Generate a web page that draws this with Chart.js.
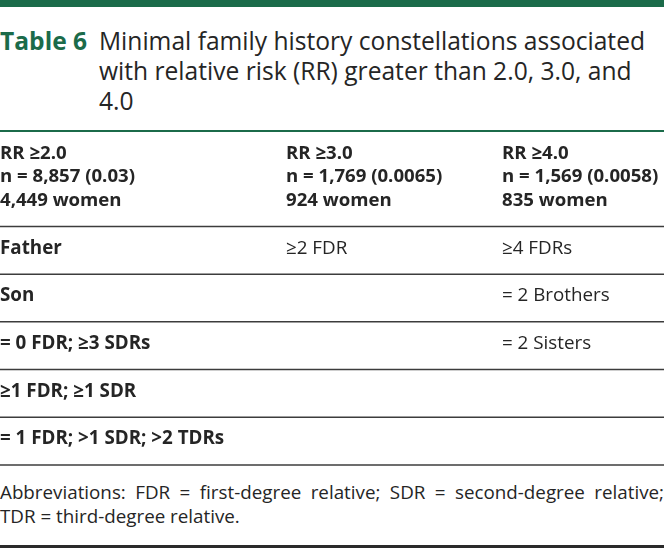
<!DOCTYPE html>
<html>
<head>
<meta charset="utf-8">
<script src="https://cdn.jsdelivr.net/npm/chart.js@4.4.1/dist/chart.umd.min.js"></script>
<style>
  html, body { margin: 0; padding: 0; background: #fff; }
  body { width: 664px; height: 548px; position: relative; overflow: hidden; font-family: "Open Sans", sans-serif; color: #252525; }
  .topbar { position: absolute; left: 0; top: 0; width: 664px; height: 7px; background: #1b6b4a; }
  .title { position: absolute; left: 0; top: 26px; width: 664px; font-size: 24.6px; line-height: 30px; }
  .title .tag { position: absolute; left: 0; top: 0; font-weight: 700; color: #1b6b4a; white-space: nowrap; }
  .title .txt { position: absolute; left: 99px; top: 0; white-space: nowrap; }
  #tableWrap { position: absolute; left: 0; top: 130px; width: 664px; height: 336px; }
  .note { position: absolute; left: 0; top: 480px; width: 664px; font-size: 18.8px; line-height: 24px; }
  .note .l1 { text-align: justify; text-align-last: justify; white-space: normal; }
  .bottom { position: absolute; left: 0; top: 545px; width: 664px; height: 3px; background: #2a2a2a; }
</style>
</head>
<body>
<div class="topbar"></div>
<div class="title">
  <span class="tag">Table 6</span>
  <div class="txt">Minimal family history constellations associated<br>with relative risk (RR) greater than 2.0, 3.0, and<br>4.0</div>
</div>
<div id="tableWrap"><canvas id="tbl"></canvas></div>
<div class="note">
  <div class="l1">Abbreviations: FDR = first-degree relative; SDR = second-degree relative;</div>
  <div>TDR = third-degree relative.</div>
</div>
<div class="bottom"></div>
<script>
// header cells, one per column
const columns = ['RR \u22652.0', 'RR \u22653.0', 'RR \u22654.0'];
const cohortN = ['n = 8,857 (0.03)', 'n = 1,769 (0.0065)', 'n = 1,569 (0.0058)'];
const women = ['4,449 women', '924 women', '835 women'];

// body cells, one array per column
const rr2 = ['Father', 'Son', '= 0 FDR; \u22653 SDRs', '\u22651 FDR; \u22651 SDR', '= 1 FDR; >1 SDR; >2 TDRs'];
const rr3 = ['\u22652 FDR', '', '', '', ''];
const rr4 = ['\u22654 FDRs', '= 2 Brothers', '= 2 Sisters', '', ''];

// two slots for the header, then one per body row
const rowSlots = ['head', 'head2'].concat(rr2);

const colLeft = [0, 286, 502];  // left edge of each column on the x scale
const green = '#1b6b4a';
const rule = '#3c3c3c';

const tablePlugin = {
    id: 'tableCells',
    afterDraw(chart) {
        const ctx = chart.ctx;
        const xs = chart.scales.x;
        const ys = chart.scales.y;
        const area = chart.chartArea;
        const slot = ys.getPixelForValue(1) - ys.getPixelForValue(0);

        ctx.save();
        // header rule (green) and row rules
        ctx.strokeStyle = green;
        ctx.lineWidth = 2;
        ctx.beginPath();
        ctx.moveTo(area.left, area.top);
        ctx.lineTo(area.right, area.top);
        ctx.stroke();

        ctx.strokeStyle = rule;
        ctx.lineWidth = 1.5;
        for (let i = 1; i < rowSlots.length; i++) {
            const y = ys.getPixelForValue(i) + slot / 2;
            ctx.beginPath();
            ctx.moveTo(area.left, y);
            ctx.lineTo(area.right, y);
            ctx.stroke();
        }

        ctx.fillStyle = '#252525';
        ctx.textBaseline = 'middle';
        ctx.textAlign = 'left';

        // header: three stacked lines centred across the two header slots
        const hc = (ys.getPixelForValue(0) + ys.getPixelForValue(1)) / 2 - 2;
        ctx.font = 'bold 18.6px "Open Sans"';
        const headLines = [columns, cohortN, women];
        headLines.forEach((line, li) => {
            line.forEach((txt, c) => {
                ctx.fillText(txt, xs.getPixelForValue(colLeft[c]), hc + (li - 1) * 23.5);
            });
        });

        // body rows
        const body = [rr2, rr3, rr4];
        body.forEach((col, c) => {
            ctx.font = (c === 0 ? 'bold ' : '') + '18.8px "Open Sans"';
            col.forEach((txt, r) => {
                if (!txt) return;
                ctx.fillText(txt, xs.getPixelForValue(colLeft[c]), ys.getPixelForValue(r + 2) - 2);
            });
        });
        ctx.restore();
    }
};

new Chart(document.getElementById('tbl').getContext('2d'), {
    type: 'bar',
    data: {
        labels: rowSlots,
        datasets: []
    },
    options: {
        indexAxis: 'y',
        responsive: true,
        maintainAspectRatio: false,
        animation: false,
        layout: { padding: { top: 1, bottom: 1, left: 0, right: 0 } },
        plugins: { legend: { display: false }, tooltip: { enabled: false } },
        scales: {
            x: { type: 'linear', min: 0, max: 664, display: false },
            y: { type: 'category', display: false, offset: true }
        }
    },
    plugins: [tablePlugin]
});
</script>
</body>
</html>
